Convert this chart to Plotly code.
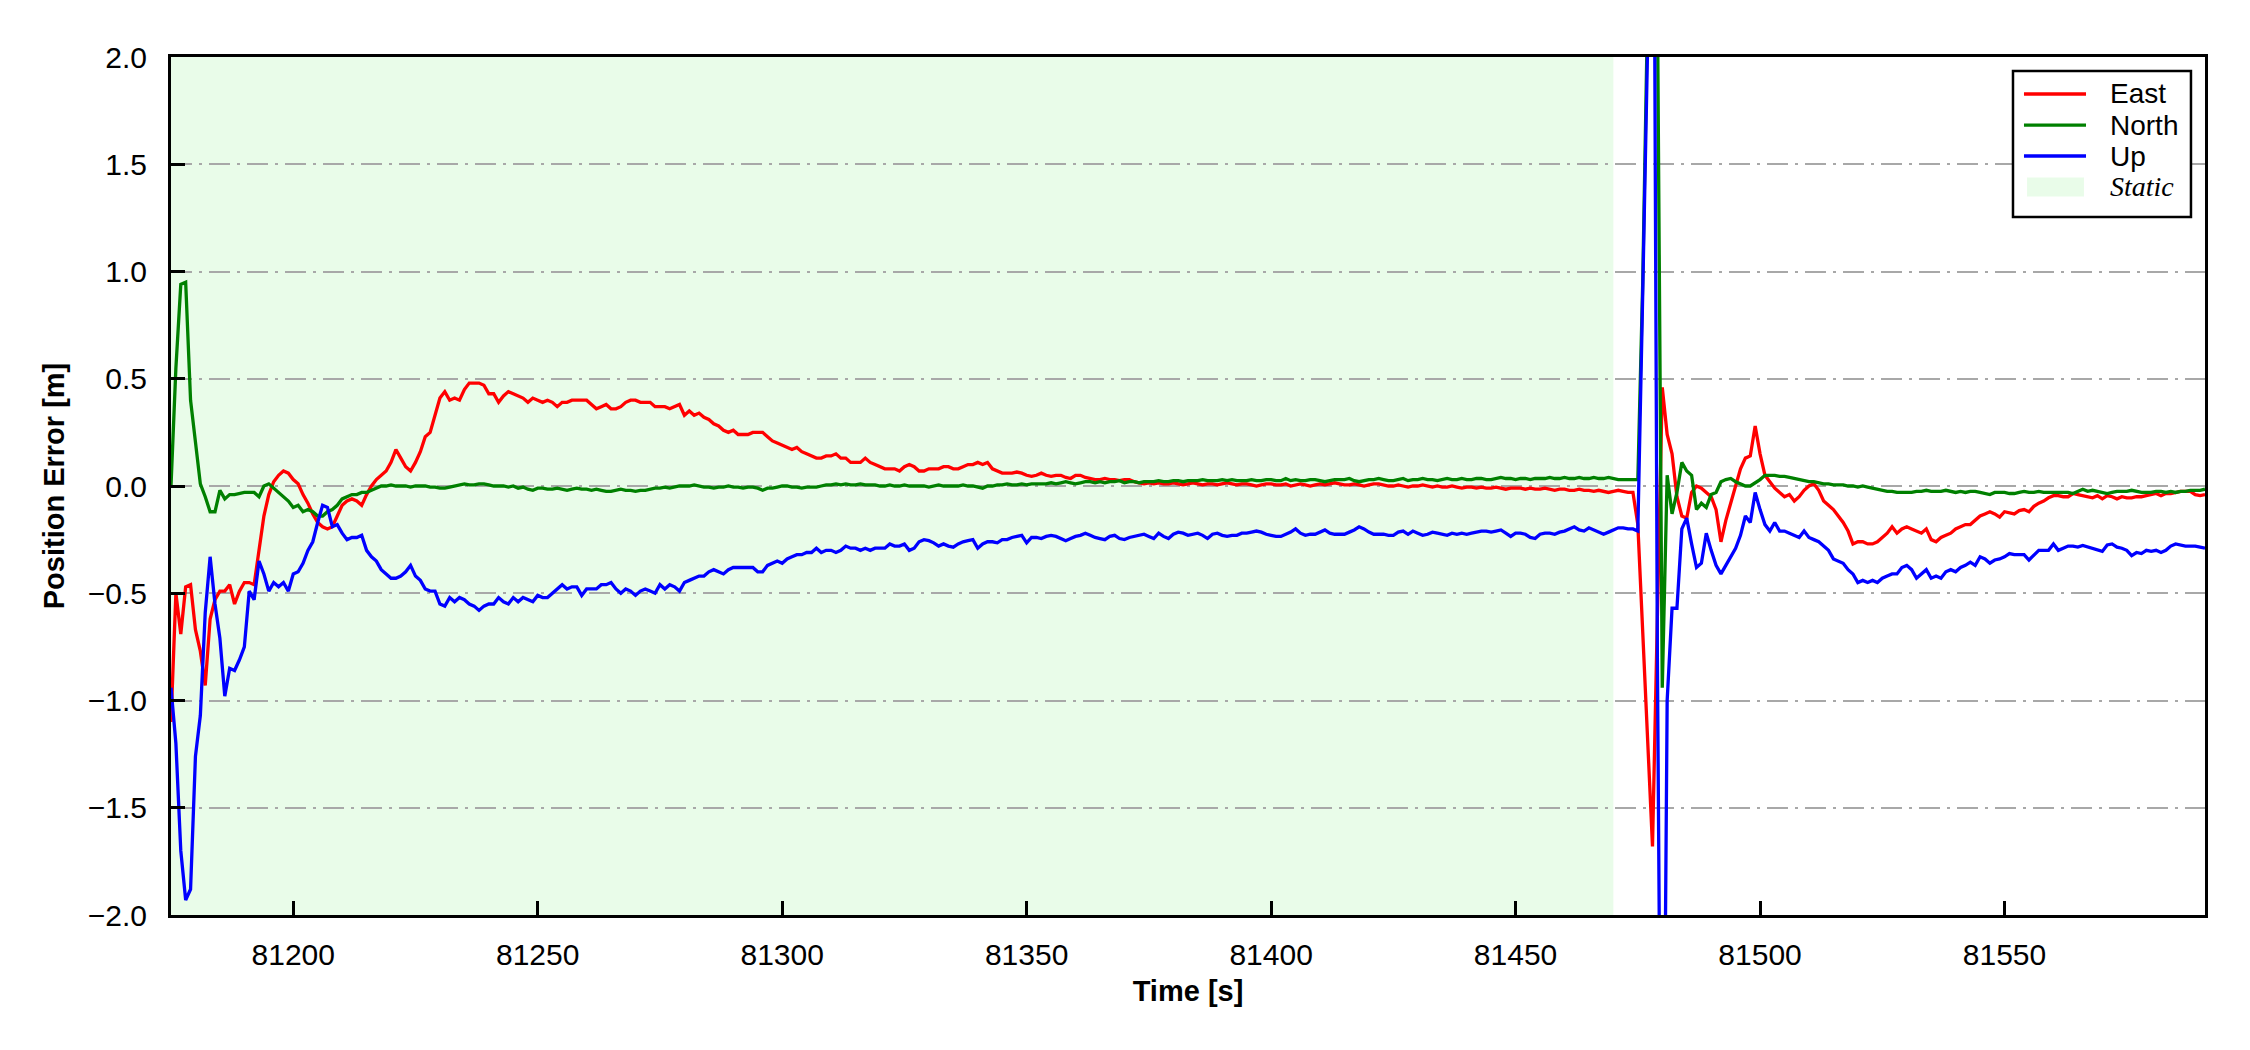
import plotly.graph_objects as go

# ---------------- data ----------------
TIME_S = list(range(81175, 81592))  # 1-s samples, 417 epochs

EAST_M = [
    -1.10, -0.50, -0.69, -0.47, -0.46, -0.67, -0.77, -0.93, -0.62, -0.53,
    -0.49, -0.49, -0.46, -0.55, -0.49, -0.45, -0.45, -0.46, -0.30, -0.14,
    -0.04, 0.02, 0.05, 0.07, 0.06, 0.03, 0.01, -0.04, -0.08, -0.13,
    -0.17, -0.19, -0.20, -0.19, -0.14, -0.09, -0.07, -0.06, -0.07, -0.09,
    -0.04, 0.00, 0.03, 0.05, 0.07, 0.11, 0.17, 0.13, 0.09, 0.07,
    0.11, 0.16, 0.23, 0.25, 0.33, 0.41, 0.44, 0.40, 0.41, 0.40,
    0.45, 0.48, 0.48, 0.48, 0.47, 0.43, 0.43, 0.39, 0.42, 0.44,
    0.43, 0.42, 0.41, 0.39, 0.41, 0.40, 0.39, 0.40, 0.39, 0.37,
    0.39, 0.39, 0.40, 0.40, 0.40, 0.40, 0.38, 0.36, 0.37, 0.38,
    0.36, 0.36, 0.37, 0.39, 0.40, 0.40, 0.39, 0.39, 0.39, 0.37,
    0.37, 0.37, 0.36, 0.37, 0.38, 0.33, 0.35, 0.33, 0.34, 0.32,
    0.31, 0.29, 0.28, 0.26, 0.25, 0.26, 0.24, 0.24, 0.24, 0.25,
    0.25, 0.25, 0.23, 0.21, 0.20, 0.19, 0.18, 0.17, 0.18, 0.16,
    0.15, 0.14, 0.13, 0.13, 0.14, 0.14, 0.15, 0.13, 0.13, 0.11,
    0.11, 0.11, 0.13, 0.11, 0.10, 0.09, 0.08, 0.08, 0.08, 0.07,
    0.09, 0.10, 0.09, 0.07, 0.07, 0.08, 0.08, 0.08, 0.09, 0.09,
    0.08, 0.08, 0.09, 0.10, 0.10, 0.11, 0.10, 0.11, 0.08, 0.07,
    0.06, 0.06, 0.06, 0.065, 0.06, 0.05, 0.045, 0.05, 0.06, 0.05,
    0.045, 0.05, 0.05, 0.04, 0.035, 0.05, 0.05, 0.04, 0.035, 0.03,
    0.03, 0.035, 0.03, 0.03, 0.025, 0.03, 0.03, 0.02, 0.015, 0.01,
    0.015, 0.01, 0.015, 0.01, 0.01, 0.015, 0.01, 0.005, 0.01, 0.015,
    0.01, 0.005, 0.01, 0.01, 0.005, 0.01, 0.015, 0.01, 0.005, 0.01,
    0.01, 0.005, 0.0, 0.005, 0.01, 0.01, 0.005, 0.005, 0.01, 0.0,
    0.005, 0.01, 0.005, 0.0, 0.005, 0.01, 0.005, 0.01, 0.015, 0.01,
    0.005, 0.005, 0.01, 0.005, 0.0, 0.005, 0.01, 0.01, 0.005, 0.0,
    0.0, 0.005, 0.0, -0.005, 0.0, 0.0, 0.005, 0.0, -0.005, 0.0,
    -0.005, -0.005, 0.0, -0.005, -0.01, -0.005, -0.005, -0.01, -0.005, -0.01,
    -0.01, -0.005, -0.01, -0.015, -0.01, -0.01, -0.01, -0.015, -0.01, -0.015,
    -0.015, -0.01, -0.015, -0.02, -0.015, -0.015, -0.02, -0.02, -0.015, -0.02,
    -0.02, -0.025, -0.02, -0.025, -0.03, -0.025, -0.02, -0.025, -0.03, -0.03,
    -0.18, -0.68, -1.18, -1.68, -0.61, 0.46, 0.24, 0.15, -0.05, -0.14,
    -0.15, -0.03, 0.00, -0.01, -0.03, -0.05, -0.11, -0.26, -0.16, -0.08,
    0.00, 0.08, 0.13, 0.14, 0.28, 0.15, 0.05, 0.02, -0.01, -0.03,
    -0.05, -0.04, -0.07, -0.05, -0.02, 0.00, 0.01, -0.02, -0.07, -0.09,
    -0.11, -0.14, -0.17, -0.21, -0.27, -0.26, -0.26, -0.27, -0.27, -0.26,
    -0.24, -0.22, -0.19, -0.22, -0.20, -0.19, -0.20, -0.21, -0.22, -0.20,
    -0.25, -0.26, -0.24, -0.23, -0.22, -0.20, -0.19, -0.18, -0.18, -0.16,
    -0.14, -0.13, -0.12, -0.13, -0.145, -0.12, -0.125, -0.13, -0.115, -0.11,
    -0.12, -0.095, -0.08, -0.07, -0.055, -0.045, -0.045, -0.05, -0.05, -0.035,
    -0.04, -0.045, -0.05, -0.055, -0.045, -0.06, -0.045, -0.05, -0.06, -0.05,
    -0.055, -0.055, -0.05, -0.05, -0.045, -0.04, -0.035, -0.045, -0.035, -0.035,
    -0.03, -0.025, -0.025, -0.025, -0.04, -0.045, -0.04,
]

NORTH_M = [
    0.00, 0.55, 0.94, 0.95, 0.40, 0.20, 0.01, -0.05, -0.12, -0.12,
    -0.02, -0.06, -0.04, -0.04, -0.035, -0.03, -0.03, -0.03, -0.05, 0.00,
    0.01, -0.01, -0.03, -0.05, -0.07, -0.10, -0.09, -0.12, -0.11, -0.12,
    -0.14, -0.14, -0.12, -0.11, -0.09, -0.06, -0.05, -0.04, -0.04, -0.03,
    -0.03, -0.02, -0.01, 0.00, 0.00, 0.005, 0.00, 0.00, 0.00, -0.005,
    0.0, 0.0, 0.0, -0.005, -0.005, -0.01, -0.01, -0.005, 0.0, 0.005,
    0.01, 0.005, 0.005, 0.01, 0.01, 0.005, 0.0, 0.0, 0.0, -0.005,
    0.0, -0.01, -0.005, -0.015, -0.02, -0.01, -0.01, -0.015, -0.015, -0.01,
    -0.015, -0.02, -0.015, -0.01, -0.015, -0.015, -0.02, -0.015, -0.02, -0.025,
    -0.025, -0.02, -0.015, -0.02, -0.02, -0.025, -0.02, -0.02, -0.015, -0.01,
    -0.01, -0.005, -0.01, -0.005, 0.0, 0.0, 0.0, 0.005, 0.0, -0.005,
    -0.005, -0.01, -0.005, -0.005, 0.0, -0.005, -0.005, -0.01, -0.005, -0.005,
    -0.01, -0.02, -0.01, -0.01, -0.005, 0.0, 0.0, -0.005, -0.005, -0.01,
    -0.005, -0.005, -0.005, 0.0, 0.005, 0.005, 0.01, 0.005, 0.01, 0.005,
    0.005, 0.01, 0.005, 0.005, 0.005, 0.0, 0.0, 0.005, 0.0, 0.0,
    0.005, 0.0, 0.0, 0.0, 0.0, -0.005, 0.0, 0.005, 0.0, 0.0,
    0.0, 0.0, 0.005, 0.0, 0.0, -0.005, -0.01, 0.0, 0.0, 0.005,
    0.005, 0.01, 0.005, 0.005, 0.01, 0.005, 0.01, 0.01, 0.01, 0.01,
    0.015, 0.01, 0.015, 0.02, 0.015, 0.01, 0.015, 0.02, 0.02, 0.015,
    0.02, 0.015, 0.02, 0.02, 0.025, 0.015, 0.02, 0.02, 0.015, 0.02,
    0.02, 0.02, 0.025, 0.02, 0.02, 0.025, 0.025, 0.02, 0.025, 0.025,
    0.025, 0.03, 0.025, 0.025, 0.025, 0.03, 0.025, 0.03, 0.025, 0.025,
    0.025, 0.03, 0.025, 0.025, 0.03, 0.03, 0.025, 0.025, 0.035, 0.025,
    0.03, 0.025, 0.025, 0.03, 0.03, 0.025, 0.02, 0.025, 0.03, 0.03,
    0.03, 0.035, 0.025, 0.02, 0.025, 0.03, 0.03, 0.035, 0.03, 0.025,
    0.025, 0.03, 0.035, 0.025, 0.03, 0.03, 0.035, 0.03, 0.03, 0.025,
    0.03, 0.035, 0.03, 0.03, 0.035, 0.03, 0.03, 0.035, 0.035, 0.03,
    0.03, 0.035, 0.04, 0.035, 0.035, 0.03, 0.035, 0.035, 0.03, 0.035,
    0.035, 0.035, 0.04, 0.035, 0.035, 0.04, 0.035, 0.035, 0.04, 0.035,
    0.035, 0.04, 0.035, 0.035, 0.04, 0.035, 0.03, 0.03, 0.03, 0.03,
    0.03, 0.95, 2.10, 3.50, 2.30, -0.94, 0.05, -0.13, -0.03, 0.11,
    0.07, 0.05, -0.11, -0.08, -0.10, -0.04, -0.03, 0.02, 0.03, 0.035,
    0.02, 0.01, 0.0, 0.0, 0.015, 0.03, 0.05, 0.05, 0.05, 0.045,
    0.045, 0.04, 0.035, 0.03, 0.025, 0.02, 0.02, 0.015, 0.01, 0.01,
    0.005, 0.005, 0.005, 0.0, 0.0, -0.005, 0.0, -0.005, -0.01, -0.015,
    -0.02, -0.025, -0.025, -0.03, -0.03, -0.03, -0.03, -0.025, -0.025, -0.02,
    -0.025, -0.025, -0.025, -0.02, -0.025, -0.03, -0.025, -0.03, -0.025, -0.025,
    -0.03, -0.035, -0.04, -0.03, -0.03, -0.03, -0.035, -0.035, -0.03, -0.025,
    -0.03, -0.03, -0.025, -0.03, -0.03, -0.03, -0.03, -0.03, -0.03, -0.035,
    -0.025, -0.015, -0.025, -0.02, -0.025, -0.03, -0.035, -0.03, -0.025, -0.025,
    -0.025, -0.02, -0.025, -0.03, -0.03, -0.03, -0.025, -0.025, -0.03, -0.025,
    -0.03, -0.025, -0.025, -0.02, -0.02, -0.02, -0.015,
]

UP_M = [
    -0.94, -1.20, -1.70, -1.93, -1.88, -1.26, -1.07, -0.59, -0.33, -0.55,
    -0.71, -0.98, -0.85, -0.86, -0.81, -0.75, -0.49, -0.53, -0.35, -0.41,
    -0.49, -0.45, -0.47, -0.45, -0.49, -0.41, -0.40, -0.36, -0.30, -0.26,
    -0.17, -0.09, -0.10, -0.19, -0.18, -0.22, -0.25, -0.24, -0.24, -0.23,
    -0.30, -0.33, -0.35, -0.39, -0.41, -0.43, -0.43, -0.42, -0.40, -0.37,
    -0.42, -0.44, -0.48, -0.49, -0.49, -0.55, -0.56, -0.52, -0.54, -0.52,
    -0.53, -0.55, -0.56, -0.58, -0.56, -0.55, -0.55, -0.52, -0.54, -0.55,
    -0.52, -0.54, -0.52, -0.53, -0.54, -0.51, -0.52, -0.52, -0.50, -0.48,
    -0.46, -0.48, -0.47, -0.47, -0.51, -0.48, -0.48, -0.48, -0.46, -0.46,
    -0.45, -0.48, -0.50, -0.48, -0.49, -0.51, -0.49, -0.48, -0.49, -0.50,
    -0.46, -0.48, -0.46, -0.47, -0.49, -0.45, -0.44, -0.43, -0.42, -0.42,
    -0.40, -0.39, -0.40, -0.41, -0.39, -0.38, -0.38, -0.38, -0.38, -0.38,
    -0.40, -0.40, -0.37, -0.36, -0.35, -0.36, -0.34, -0.33, -0.32, -0.32,
    -0.31, -0.31, -0.29, -0.31, -0.30, -0.30, -0.31, -0.30, -0.28, -0.29,
    -0.29, -0.30, -0.29, -0.30, -0.29, -0.29, -0.29, -0.27, -0.28, -0.28,
    -0.27, -0.30, -0.29, -0.26, -0.25, -0.255, -0.265, -0.28, -0.27, -0.28,
    -0.285, -0.27, -0.26, -0.255, -0.25, -0.29, -0.27, -0.26, -0.26, -0.265,
    -0.25, -0.25, -0.24, -0.235, -0.23, -0.265, -0.24, -0.24, -0.245, -0.235,
    -0.23, -0.235, -0.245, -0.255, -0.245, -0.235, -0.23, -0.22, -0.23, -0.24,
    -0.245, -0.25, -0.235, -0.23, -0.245, -0.25, -0.24, -0.235, -0.23, -0.225,
    -0.235, -0.245, -0.22, -0.235, -0.245, -0.225, -0.215, -0.22, -0.23, -0.225,
    -0.22, -0.23, -0.245, -0.225, -0.22, -0.23, -0.235, -0.23, -0.23, -0.22,
    -0.22, -0.215, -0.21, -0.215, -0.225, -0.23, -0.235, -0.235, -0.225, -0.215,
    -0.20, -0.22, -0.23, -0.225, -0.225, -0.215, -0.205, -0.22, -0.225, -0.225,
    -0.225, -0.215, -0.205, -0.19, -0.20, -0.215, -0.225, -0.225, -0.225, -0.23,
    -0.23, -0.215, -0.21, -0.225, -0.21, -0.22, -0.23, -0.225, -0.215, -0.22,
    -0.225, -0.23, -0.22, -0.225, -0.22, -0.225, -0.22, -0.215, -0.21, -0.21,
    -0.215, -0.21, -0.205, -0.22, -0.235, -0.22, -0.22, -0.225, -0.24, -0.245,
    -0.225, -0.22, -0.22, -0.225, -0.215, -0.21, -0.20, -0.19, -0.205, -0.21,
    -0.195, -0.205, -0.215, -0.225, -0.215, -0.205, -0.195, -0.195, -0.20, -0.20,
    -0.21, 0.90, 2.05, 4.50, -0.80, -4.00, -1.00, -0.57, -0.57, -0.20,
    -0.15, -0.27, -0.38, -0.36, -0.22, -0.30, -0.37, -0.41, -0.37, -0.33,
    -0.29, -0.23, -0.14, -0.17, -0.03, -0.11, -0.18, -0.21, -0.17, -0.21,
    -0.21, -0.22, -0.23, -0.24, -0.21, -0.24, -0.25, -0.26, -0.28, -0.30,
    -0.34, -0.35, -0.36, -0.39, -0.41, -0.45, -0.44, -0.45, -0.44, -0.45,
    -0.43, -0.42, -0.41, -0.41, -0.38, -0.37, -0.39, -0.43, -0.41, -0.39,
    -0.43, -0.42, -0.43, -0.40, -0.39, -0.40, -0.38, -0.37, -0.355, -0.37,
    -0.33, -0.34, -0.36, -0.345, -0.34, -0.33, -0.315, -0.32, -0.32, -0.32,
    -0.345, -0.32, -0.30, -0.30, -0.30, -0.27, -0.30, -0.29, -0.28, -0.28,
    -0.285, -0.277, -0.285, -0.29, -0.30, -0.305, -0.275, -0.27, -0.285, -0.29,
    -0.30, -0.325, -0.31, -0.315, -0.30, -0.305, -0.30, -0.31, -0.30, -0.28,
    -0.27, -0.275, -0.28, -0.28, -0.28, -0.285, -0.29,
]

SERIES_NAMES = ["East", "North", "Up"]
STATIC_LABEL = "Static"
STATIC_START_S = 81175
STATIC_END_S = 81470
X_RANGE = [81175, 81591]
Y_RANGE = [-2.0, 2.0]
X_TICKS = [81200, 81250, 81300, 81350, 81400, 81450, 81500, 81550]
Y_TICKS = [-2.0, -1.5, -1.0, -0.5, 0.0, 0.5, 1.0, 1.5, 2.0]

assert len(EAST_M) == len(TIME_S), len(EAST_M)
assert len(NORTH_M) == len(TIME_S), len(NORTH_M)
assert len(UP_M) == len(TIME_S), len(UP_M)

# ---------------- styling ----------------
COLORS = ["#ff0000", "#008000", "#0000ff"]
STATIC_FILL = "rgba(144,238,144,0.2)"
SANS = "Liberation Sans, Arial, sans-serif"
SERIF = "Liberation Serif, Times New Roman, serif"
LINE_W = 3.3

fig = go.Figure()
for name, vals, col in zip(SERIES_NAMES, [EAST_M, NORTH_M, UP_M], COLORS):
    fig.add_trace(go.Scatter(x=TIME_S, y=vals, mode="lines", name=name,
                             line=dict(color=col, width=LINE_W),
                             showlegend=False))

# static period shading
fig.add_shape(type="rect", xref="x", yref="paper", x0=STATIC_START_S, x1=STATIC_END_S,
              y0=0, y1=1, fillcolor=STATIC_FILL, line_width=0, layer="below")

# ---------------- legend (box, samples and labels in paper units) ----------------
LX0, LX1, LY0, LY1 = 0.9056, 0.9931, 0.8135, 0.9837
SAMPLE_X0, SAMPLE_X1, TEXT_X = 0.9110, 0.9415, 0.9523
ROW_Y = [0.9569, 0.9207, 0.8846, 0.8485]

fig.add_shape(type="rect", xref="paper", yref="paper", x0=LX0, x1=LX1, y0=LY0, y1=LY1,
              fillcolor="white", line=dict(color="black", width=2.5), layer="above")
for i, col in enumerate(COLORS):
    fig.add_shape(type="line", xref="paper", yref="paper", x0=SAMPLE_X0, x1=SAMPLE_X1,
                  y0=ROW_Y[i], y1=ROW_Y[i], line=dict(color=col, width=LINE_W), layer="above")
    fig.add_annotation(x=TEXT_X, y=ROW_Y[i], xref="paper", yref="paper", text=SERIES_NAMES[i],
                       showarrow=False, xanchor="left", yanchor="middle",
                       font=dict(family=SANS, size=28, color="black"))
fig.add_shape(type="rect", xref="paper", yref="paper", x0=SAMPLE_X0 + 0.0015, x1=SAMPLE_X1 - 0.001,
              y0=ROW_Y[3] - 0.011, y1=ROW_Y[3] + 0.011, fillcolor=STATIC_FILL, line_width=0,
              layer="above")
fig.add_annotation(x=TEXT_X, y=ROW_Y[3], xref="paper", yref="paper",
                   text="<i>" + STATIC_LABEL + "</i>", showarrow=False,
                   xanchor="left", yanchor="middle",
                   font=dict(family=SERIF, size=28, color="black"))

axis_common = dict(
    ticks="inside", ticklen=14, tickwidth=2.5, tickcolor="black",
    showline=True, linecolor="black", linewidth=3, mirror=True,
    zeroline=False, tickfont=dict(family=SANS, size=30, color="black"),
)

fig.update_xaxes(range=X_RANGE, tickvals=X_TICKS, tickformat="d", showgrid=False,
                 ticklabelstandoff=11,
                 title=dict(text="Time [s]", standoff=11,
                            font=dict(family=SANS, size=29, color="black", weight="bold")),
                 **axis_common)
fig.update_yaxes(range=Y_RANGE, tickvals=Y_TICKS, tickformat=".1f", showgrid=True,
                 gridcolor="#a8a8a8", gridwidth=2.2, griddash="21px,7px,3px,7px",
                 ticklabelstandoff=15,
                 title=dict(text="Position Error [m]", standoff=15,
                            font=dict(family=SANS, size=29, color="black", weight="bold")),
                 **axis_common)

# page body has an 8px default margin: shrink figure so the plot area lands where the reference has it
fig.update_layout(width=2242, height=1042,
                  margin=dict(l=163, r=45, t=49, b=135, autoexpand=False),
                  paper_bgcolor="white", plot_bgcolor="white",
                  font=dict(family=SANS, color="black"))

fig.write_html("out.html")
